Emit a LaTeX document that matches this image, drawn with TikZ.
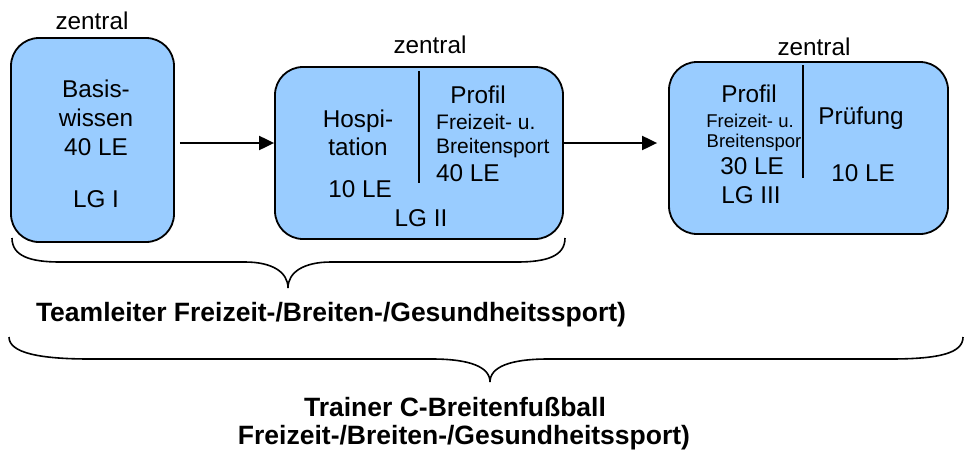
\documentclass[tikz,border=0pt]{standalone}
\usepackage{fontspec}
\setmainfont{Liberation Sans}
\usetikzlibrary{arrows.meta}
\definecolor{boxblue}{HTML}{99CCFF}
\tikzset{
  box/.style={draw=black, line width=1.8pt, fill=boxblue, rounded corners=28pt, inner sep=0pt, rectangle},
  txt/.style={anchor=base, inner sep=0pt, font=\fontsize{24.3}{28}\selectfont},
  smalltxt/.style={anchor=base, inner sep=0pt, font=\fontsize{21}{24}\selectfont},
  tinytxt/.style={anchor=base, inner sep=0pt, font=\fontsize{18.5}{22}\selectfont},
  boldtxt/.style={anchor=base, inner sep=0pt, font=\fontsize{26.5}{30}\selectfont\bfseries},
  divider/.style={line width=1.6pt},
  arr/.style={line width=2pt, -{Triangle[length=15pt,width=14pt]}},
  brace/.style={line width=1.6pt}
}
\begin{document}
\begin{tikzpicture}[x=1pt,y=-1pt]
\useasboundingbox (0,0) rectangle (965,450);
% boxes
\node[box, minimum width=163pt, minimum height=204pt] (b1) at (92.5,140) {};
\node[box, minimum width=288pt, minimum height=172pt] (b2) at (419,153) {};
\node[box, minimum width=279pt, minimum height=172pt] (b3) at (808.5,148) {};
% zentral labels
\node[txt] (z1) at (92,29) {zentral};
\node[txt] (z2) at (430,53) {zentral};
\node[txt] (z3) at (814,55) {zentral};
% box 1 text
\node[txt] (t11) at (96,97) {Basis-};
\node[txt] (t12) at (96,126) {wissen};
\node[txt] (t13) at (96,155) {40 LE};
\node[txt] (t14) at (96,207) {LG I};
% box 2 text
\node[txt] (t21) at (358,127) {Hospi-};
\node[txt] (t22) at (358,155) {tation};
\node[txt] (t23) at (360,197) {10 LE};
\node[txt] (t24) at (478,103) {Profil};
\node[smalltxt, anchor=base west] (t25) at (436,129) {Freizeit- u.};
\node[smalltxt, anchor=base west] (t26) at (436,153) {Breitensport};
\node[txt, anchor=base west] (t27) at (436,181) {40 LE};
\node[txt] (t28) at (421,226) {LG II};
\coordinate (d2a) at (419,71);
\coordinate (d2b) at (419,183);
\draw[divider] (d2a) -- (d2b);
% box 3 text
\node[txt] (t31) at (749,102) {Profil};
\node[tinytxt] (t32) at (750,127) {Freizeit- u.};
\node[tinytxt] (t33) at (754,147) {Breitenspor};
\node[txt] (t34) at (752,174) {30 LE};
\node[txt] (t35) at (751,203) {LG III};
\node[txt] (t36) at (861,124) {Prüfung};
\node[txt] (t37) at (863,181) {10 LE};
\coordinate (d3a) at (803,65);
\coordinate (d3b) at (803,178);
\draw[divider] (d3a) -- (d3b);
% arrows
\coordinate (ay) at (0,143);
\draw[arr] ([xshift=5pt]b1.east |- ay) -- (b2.west |- ay);
\draw[arr] (b2.east |- ay) -- ([xshift=-11pt]b3.west |- ay);
% small brace
\coordinate (sbL) at (12,238);
\coordinate (sbT) at (288,288);
\coordinate (sbR) at (565,238);
\draw[brace] (sbL) .. controls (12,256) and (30,262) .. (60,262) -- (245,262)
  .. controls (272,262) and (288,272) .. (sbT)
  .. controls (288,272) and (304,262) .. (331,262) -- (517,262)
  .. controls (547,262) and (565,256) .. (sbR);
\node[boldtxt] (lab1) at (331,321) {Teamleiter Freizeit-/Breiten-/Gesundheitssport)};
% big brace
\coordinate (bbL) at (9,337);
\coordinate (bbT) at (490,382);
\coordinate (bbR) at (963,337);
\draw[brace] (bbL) .. controls (9,353) and (40,359) .. (90,359) -- (432,359)
  .. controls (470,359) and (490,367) .. (bbT)
  .. controls (490,367) and (510,359) .. (548,359) -- (890,359)
  .. controls (940,359) and (963,353) .. (bbR);
\node[boldtxt] (lab2) at (455,416) {Trainer C-Breitenfußball};
\node[boldtxt] (lab3) at (464,444) {Freizeit-/Breiten-/Gesundheitssport)};
\end{tikzpicture}
\end{document}
